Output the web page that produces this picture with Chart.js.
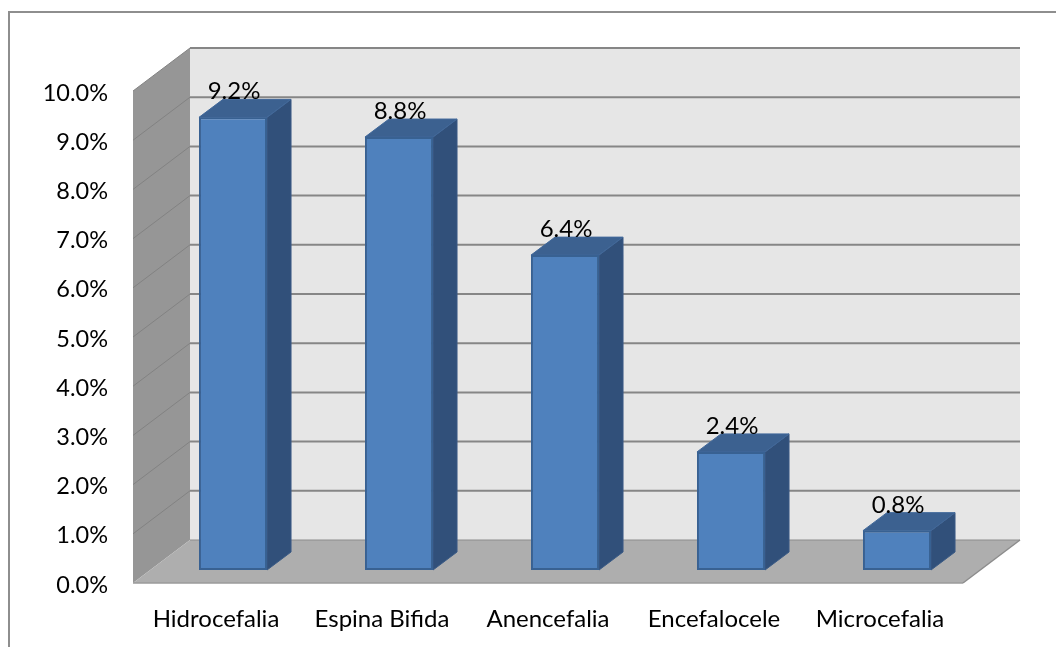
<!DOCTYPE html>
<html>
<head>
<meta charset="utf-8">
<title>Malformaciones</title>
<script src="https://cdn.jsdelivr.net/npm/chart.js@4"></script>
<style>
  html, body { margin: 0; padding: 0; background: #fff; }
  #wrap { width: 1056px; height: 647px; position: relative; }
</style>
</head>
<body>
<div id="wrap"><canvas id="defects-chart" width="1056" height="647"></canvas></div>
<script>
const categories = ['Hidrocefalia', 'Espina Bifida', 'Anencefalia', 'Encefalocele', 'Microcefalia'];
const percentages = [9.2, 8.8, 6.4, 2.4, 0.8];
const axisMax = 10;
const axisStep = 1;

const chartFont = 'Lato, Carlito, sans-serif';
const fontSize = 24;
const yTickSize = 23.5;

// how far the walls, the bars and the bar tops are pushed back
const wallDepth = { x: 57, y: -43 };
const barInset = { x: 17, y: -13 };
const barDepth = { x: 24, y: -18 };

function poly(ctx, pts, fill, stroke, lineWidth) {
  ctx.beginPath();
  pts.forEach((p, i) => i ? ctx.lineTo(p[0], p[1]) : ctx.moveTo(p[0], p[1]));
  ctx.closePath();
  ctx.fillStyle = fill;
  ctx.fill();
  if (stroke) {
    ctx.strokeStyle = stroke;
    ctx.lineWidth = lineWidth || 1;
    ctx.stroke();
  }
}

function line(ctx, x1, y1, x2, y2, color, width) {
  ctx.beginPath();
  ctx.moveTo(x1, y1);
  ctx.lineTo(x2, y2);
  ctx.strokeStyle = color;
  ctx.lineWidth = width;
  ctx.stroke();
}

// outer frame, only the top and left edges are on the page
const framePlugin = {
  id: 'frame',
  beforeDraw(chart) {
    const ctx = chart.ctx;
    ctx.save();
    line(ctx, 9, 12, chart.width, 12, '#8e8e8e', 2);
    line(ctx, 9, 11, 9, chart.height, '#8e8e8e', 2);
    ctx.restore();
  }
};

const wallsPlugin = {
  id: 'walls',
  beforeDatasetsDraw(chart) {
    const ctx = chart.ctx;
    const { left, right, top, bottom } = chart.chartArea;
    const dx = wallDepth.x, dy = wallDepth.y;
    ctx.save();
    poly(ctx, [[left + dx, top + dy], [right + dx, top + dy], [right + dx, bottom + dy], [left + dx, bottom + dy]], '#e6e6e6');
    poly(ctx, [[left, top], [left + dx, top + dy], [left + dx, bottom + dy], [left, bottom]], '#969696');
    poly(ctx, [[left, bottom], [left + dx, bottom + dy], [right + dx, bottom + dy], [right, bottom]], '#aeaeae');

    chart.scales.y.ticks.forEach(t => {
      const y = chart.scales.y.getPixelForValue(t.value);
      if (t.value > 0) line(ctx, left, y, left + dx, y + dy, '#828282', 1);
      if (t.value > 0) line(ctx, left + dx, y + dy, right + dx, y + dy, '#868686', 2);
    });
    line(ctx, left + dx, bottom + dy, right + dx, bottom + dy, '#8c8c8c', 1);
    line(ctx, left, bottom, right, bottom, '#9a9a9a', 1.5);
    line(ctx, right, bottom, right + dx, bottom + dy, '#8c8c8c', 1.5);
    ctx.restore();
  }
};

// the library's bars sit on the front plane, so shift them back onto the floor
const barBoxPlugin = {
  id: 'barBox',
  beforeDatasetsDraw(chart) {
    const ctx = chart.ctx;
    const dx = barDepth.x, dy = barDepth.y;
    ctx.save();
    ctx.translate(barInset.x, barInset.y);
    chart.getDatasetMeta(0).data.forEach(bar => {
      const l = bar.x - bar.width / 2, r = bar.x + bar.width / 2;
      poly(ctx, [[r, bar.y], [r + dx, bar.y + dy], [r + dx, bar.base + dy], [r, bar.base]], '#31507a', '#3a5a85', 1);
      poly(ctx, [[l, bar.y], [l + dx, bar.y + dy], [r + dx, bar.y + dy], [r, bar.y]], '#3c6190', '#41689a', 1);
    });
    ctx.restore();
    ctx.save();
    ctx.translate(barInset.x, barInset.y);
  },
  afterDatasetsDraw(chart) {
    const ctx = chart.ctx;
    ctx.restore();
    ctx.save();
    ctx.font = fontSize + 'px ' + chartFont;
    ctx.fillStyle = '#000';
    ctx.textAlign = 'center';
    ctx.textBaseline = 'alphabetic';
    chart.getDatasetMeta(0).data.forEach((bar, i) => {
      ctx.fillText(percentages[i].toFixed(1) + '%', bar.x + barInset.x + 1, bar.y + barInset.y - 18);
    });
    ctx.restore();
  }
};

new Chart(document.getElementById('defects-chart').getContext('2d'), {
  type: 'bar',
  data: {
    labels: categories,
    datasets: [{
      data: percentages,
      backgroundColor: '#4f81bd',
      borderColor: '#386192',
      borderWidth: 2,
      borderSkipped: false,
      barPercentage: 0.41,
      categoryPercentage: 1
    }]
  },
  options: {
    responsive: false,
    animation: false,
    layout: { padding: { top: 91, right: 93, left: 0, bottom: 0 } },
    plugins: { legend: { display: false }, tooltip: { enabled: false } },
    scales: {
      x: {
        grid: { display: false },
        border: { display: false },
        ticks: { color: '#000', padding: 14, maxRotation: 0, font: { family: chartFont, size: fontSize } },
        afterFit(scale) { scale.height = 64; }
      },
      y: {
        min: 0,
        max: axisMax,
        grid: { display: false },
        border: { display: false },
        ticks: {
          stepSize: axisStep,
          color: '#000',
          padding: 17,
          labelOffset: 2,
          font: { family: chartFont, size: yTickSize },
          callback: v => v.toFixed(1) + '%'
        },
        afterFit(scale) { scale.width = 133; }
      }
    }
  },
  plugins: [framePlugin, wallsPlugin, barBoxPlugin]
});
</script>
</body>
</html>
